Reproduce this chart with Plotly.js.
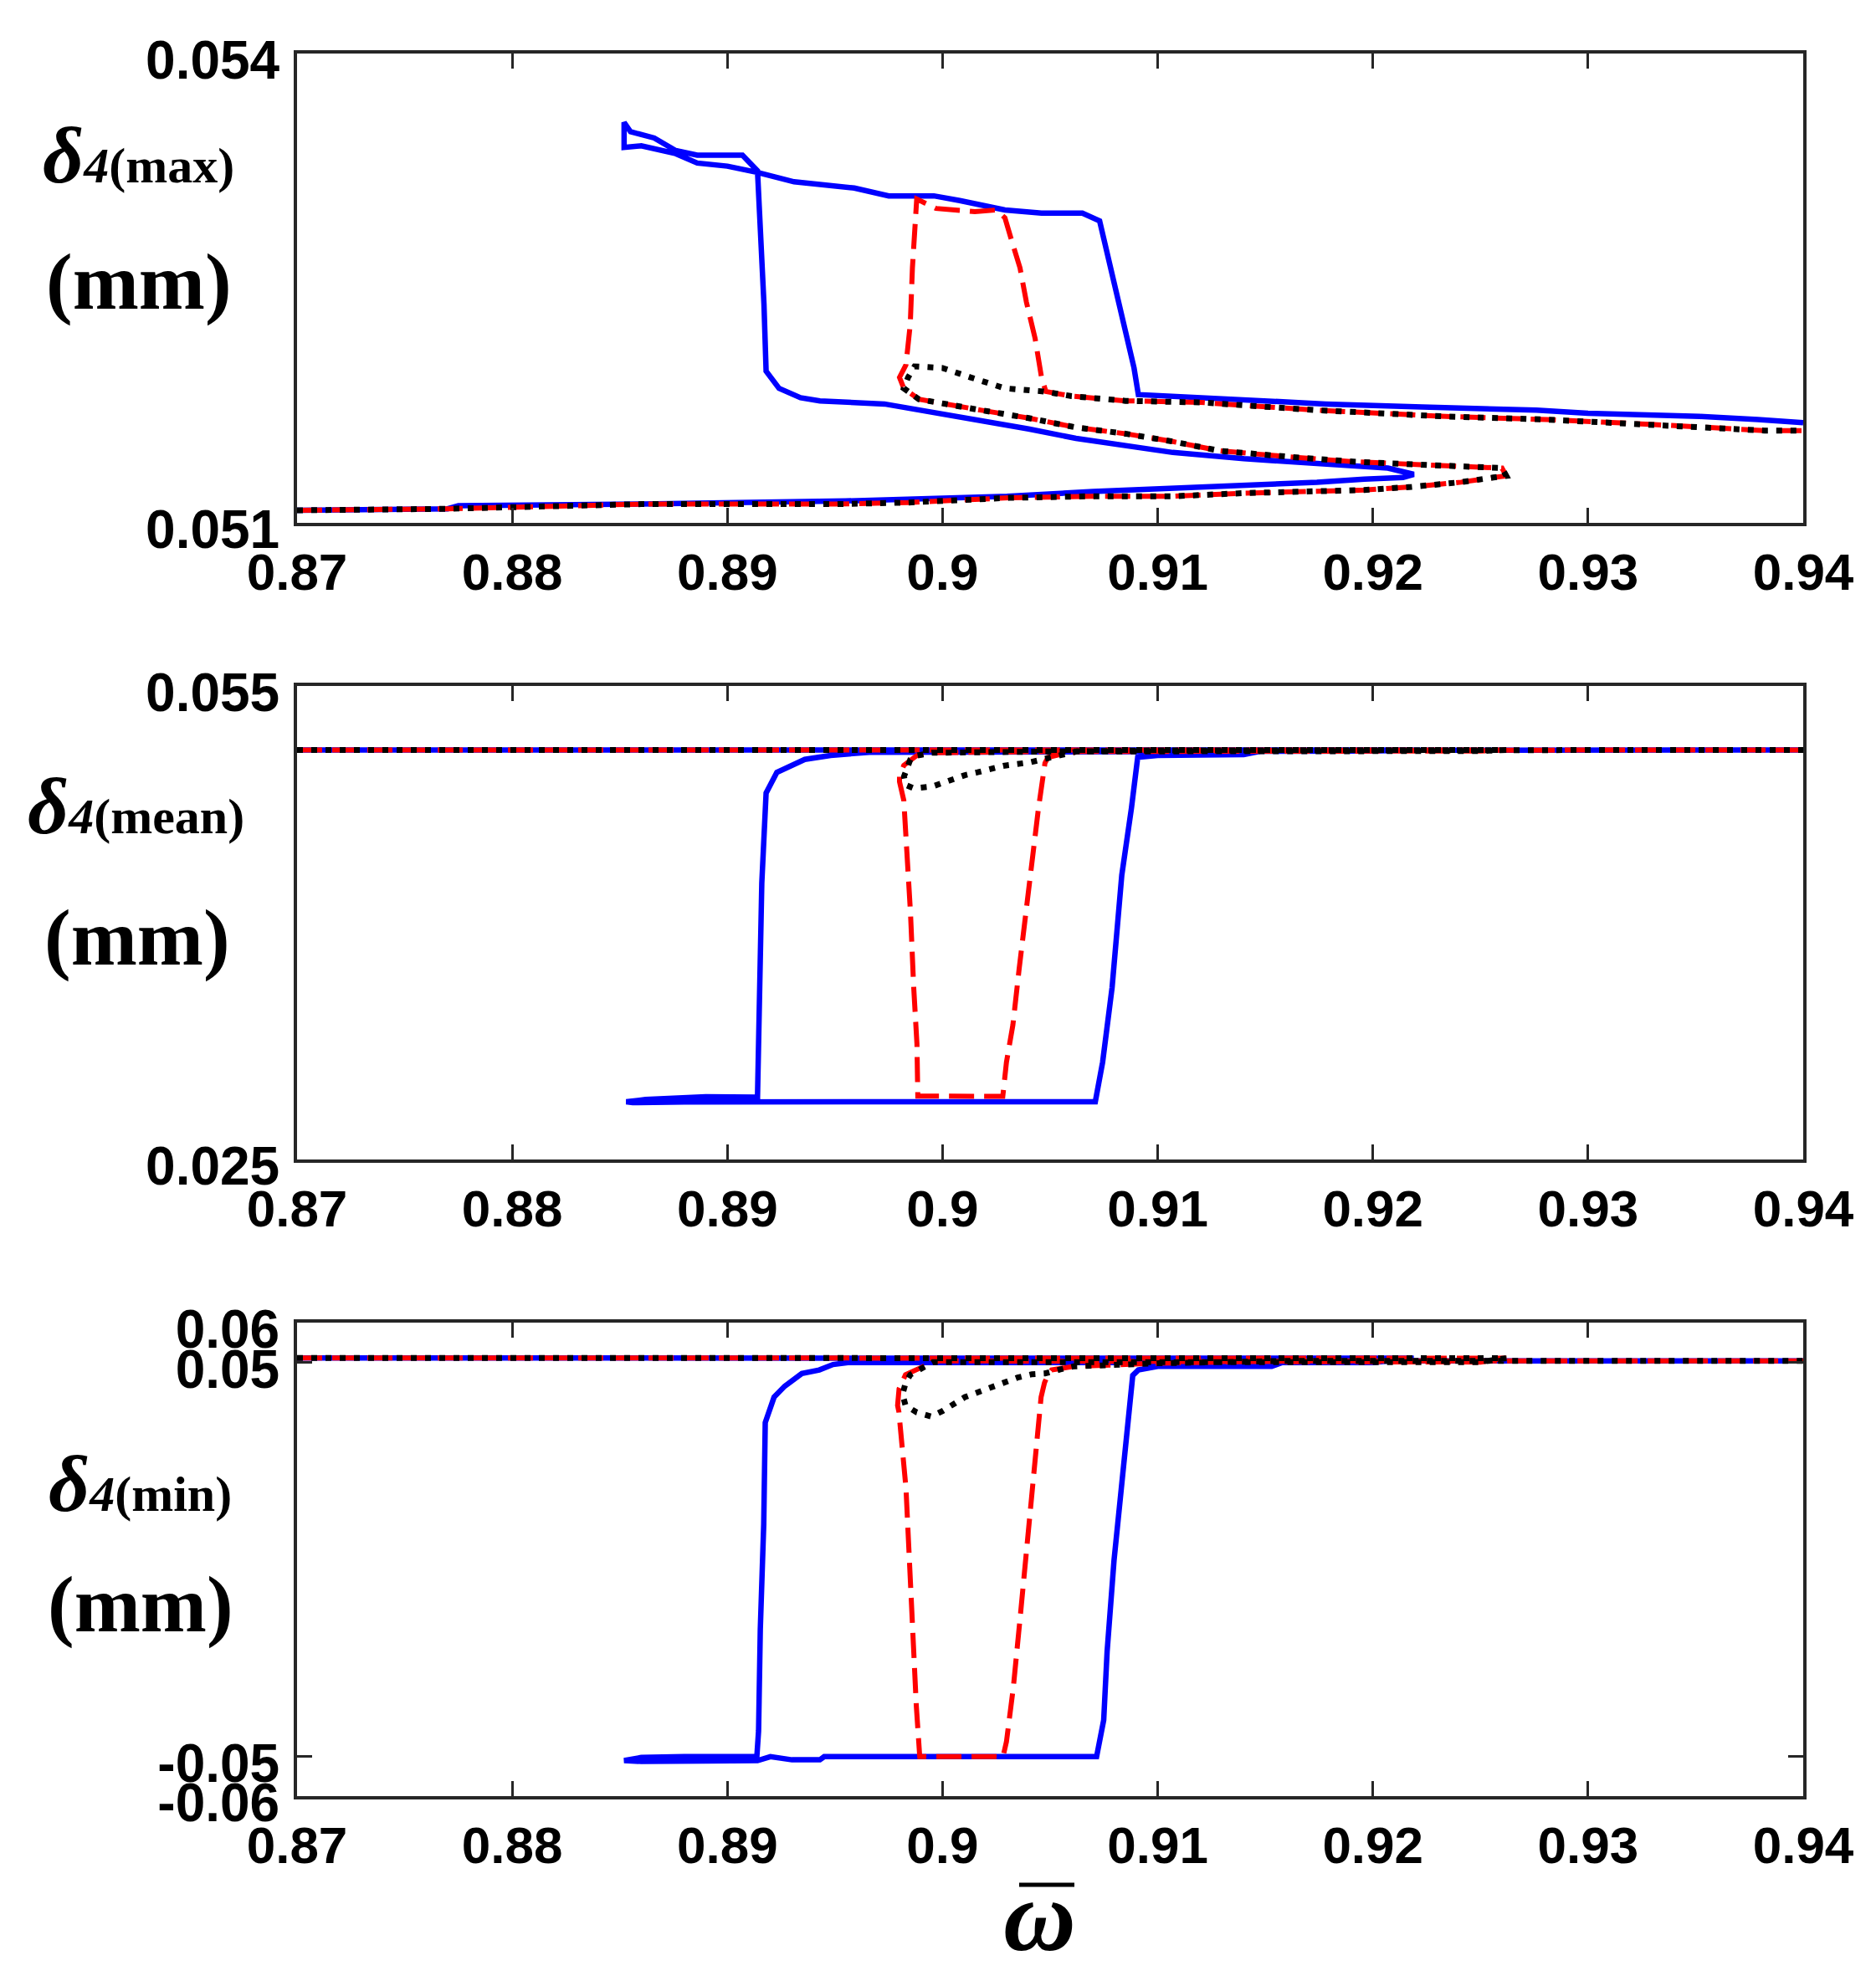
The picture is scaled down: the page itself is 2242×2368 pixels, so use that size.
<!DOCTYPE html>
<html>
<head>
<meta charset="utf-8">
<script src="https://cdn.plot.ly/plotly-3.0.1.min.js"></script>
<style>html,body{margin:0;padding:0;background:#fff;}#chart{width:2242px;height:2368px;}</style>
</head>
<body>
<div id="chart"></div>
<script>
// ---------- tick definitions ----------
const xTickVals = [0.87, 0.88, 0.89, 0.90, 0.91, 0.92, 0.93, 0.94];
const xTickText = ['0.87', '0.88', '0.89', '0.9', '0.91', '0.92', '0.93', '0.94'];
const yMaxTickVals = [0.051, 0.054];
const yMaxTickText = ['0.051', '0.054'];
const yMeanTickVals = [0.025, 0.055];
const yMeanTickText = ['0.025', '0.055'];
const yMinTickVals = [-0.06, -0.05, 0.05, 0.06];
const yMinTickText = ['-0.06', '-0.05', '0.05', '0.06'];

// ---------- delta4(max) ----------
const maxBlueW = [0.870,0.877,0.8775,0.886,0.8955,0.903,0.907,0.9107,0.914,0.9174,0.9196,0.9214,0.9219,
  0.9207,0.9174,0.9140,0.9107,0.9085,0.9062,0.9040,0.9018,0.8995,0.8973,0.8943,0.8934,0.8924,0.8918,
  0.8917,0.8915,0.8914,
  0.8907,0.8886,0.8876,0.8866,0.8855,0.8852,0.8852,0.8860,0.8876,0.8886,0.8900,0.8914,
  0.8931,0.8945,0.8959,0.8975,0.8996,0.9008,0.9029,0.9046,0.9065,0.9073,
  0.9077,0.9081,0.9086,0.9089,0.9091,
  0.9106,0.9116,0.9156,0.9178,0.9223,0.9276,0.9300,0.9352,0.9379,0.9400];
const maxBlueV = [0.05108,0.05109,0.05111,0.05112,0.05114,0.05117,0.05120,0.05122,0.05124,0.05126,0.05128,0.05129,0.05131,
  0.05135,0.05138,0.05141,0.05145,0.05149,0.05154,0.05160,0.05165,0.05171,0.05176,0.05178,0.05180,0.05186,0.05197,
  0.05240,0.05290,0.05325,
  0.05335,0.05335,0.05338,0.05346,0.05350,0.05356,0.05340,0.05341,0.05336,0.05330,0.05328,0.05324,
  0.05318,0.05316,0.05314,0.05309,0.05309,0.05306,0.05300,0.05298,0.05298,0.05293,
  0.05270,0.05245,0.05218,0.05199,0.05182,
  0.05181,0.05180,0.05177,0.05176,0.05174,0.05172,0.05170,0.05168,0.05166,0.05164];

const maxRedW = [0.870,0.877,0.886,0.8951,0.8984,0.9031,0.9069,0.9107,0.9140,0.9174,0.9196,0.9218,0.9241,0.9256,0.9262,
  0.9260,0.9241,0.9218,0.9192,0.9163,0.9129,0.9107,0.9085,0.9062,0.9040,0.9018,0.8995,0.8989,0.8982,
  0.8980,0.8983,0.8985,0.8986,0.8987,0.8988,
  0.8997,0.9015,0.9025,
  0.9029,0.9032,0.9036,0.9039,0.9043,0.9046,0.9048,
  0.9060,0.9085,0.9120,0.9174,0.9234,0.9281,0.9329,0.9382,0.9400];
const maxRedV = [0.05108,0.05109,0.05112,0.05112,0.05113,0.05116,0.05117,0.05117,0.05119,0.05120,0.05121,0.05123,0.05126,0.05129,0.05130,
  0.05135,0.05136,0.05138,0.05139,0.05142,0.05146,0.05152,0.05157,0.05161,0.05167,0.05172,0.05177,0.05179,0.05186,
  0.05193,0.05201,0.05227,0.05263,0.05293,0.05307,
  0.05301,0.05299,0.05300,
  0.05295,0.05281,0.05263,0.05241,0.05218,0.05193,0.05184,
  0.05181,0.05178,0.05177,0.05172,0.05168,0.05166,0.05163,0.05159,0.05159];

const maxBlackW = [0.870,0.877,0.886,0.8951,0.8984,0.9031,0.9069,0.9107,0.9140,0.9174,0.9196,0.9218,0.9241,0.9256,0.9262,
  0.9260,0.9241,0.9218,0.9192,0.9163,0.9129,0.9107,0.9085,0.9062,0.9040,0.9018,0.8995,0.8989,0.8982,
  0.8984,0.8987,0.9000,0.9013,0.9029,0.9047,
  0.9060,0.9085,0.9120,0.9174,0.9234,0.9281,0.9329,0.9382,0.9400];
const maxBlackV = [0.05108,0.05109,0.05112,0.05112,0.05113,0.05116,0.05117,0.05117,0.05119,0.05120,0.05121,0.05123,0.05126,0.05129,0.05130,
  0.05135,0.05136,0.05138,0.05139,0.05142,0.05146,0.05152,0.05157,0.05161,0.05167,0.05172,0.05177,0.05179,0.05186,
  0.05193,0.05200,0.05199,0.05193,0.05186,0.05184,
  0.05181,0.05178,0.05177,0.05172,0.05168,0.05166,0.05163,0.05159,0.05159];

// ---------- delta4(mean) ----------
const meanBlueW = [0.870,0.900,0.9219,
  0.9200,0.9140,0.9090,0.9050,0.9000,0.8966,0.8948,0.8936,0.8923,0.8918,0.8916,0.8915,0.8914,
  0.8890,0.8877,0.8862,0.8853,0.8856,0.8880,0.8914,
  0.9000,0.9071,
  0.90744,0.90788,0.90833,0.90878,0.90907,
  0.9100,0.9140,0.9150,0.9400];
const meanBlueV = [0.05095,0.05095,0.05094,
  0.05088,0.05086,0.05086,0.05086,0.05084,0.05080,0.05060,0.05035,0.04953,0.04822,0.04253,0.03637,0.02895,
  0.02898,0.02892,0.02880,0.02866,0.02860,0.02864,0.02866,
  0.02866,0.02866,
  0.03116,0.03590,0.04301,0.04727,0.05048,
  0.05060,0.05065,0.05093,0.05095];

const meanRedW = [0.870,0.9262,
  0.9250,0.9050,0.9000,0.8995,0.8988,0.8982,0.8980,0.8980,0.8982,0.89836,0.89851,0.89866,0.89881,0.89885,
  0.9028,
  0.90297,0.90327,0.90356,0.90387,0.90416,0.90446,0.90476,0.90490,0.90551,0.9065,
  0.9100,0.9400];
const meanRedV = [0.05095,0.05095,
  0.05088,0.05085,0.05080,0.05077,0.05059,0.04997,0.04930,0.04894,0.04775,0.04420,0.04064,0.03590,0.03234,0.02902,
  0.02900,
  0.03116,0.03353,0.03708,0.04064,0.04420,0.04727,0.05012,0.05048,0.05068,0.05086,
  0.05092,0.05095];

const meanBlackW = [0.870,0.9262,
  0.9250,0.9050,0.9000,0.8995,0.8988,0.8985,0.89821,0.89828,0.89866,0.89955,0.9003,0.90104,0.90163,0.90282,0.90401,0.9049,0.90625,
  0.9100,0.9400];
const meanBlackV = [0.05095,0.05095,
  0.05088,0.05085,0.05080,0.05077,0.05059,0.05033,0.04927,0.04873,0.04852,0.04864,0.04900,0.04935,0.04953,0.04994,0.05015,0.05042,0.05086,
  0.05092,0.05095];

// ---------- delta4(min) ----------
const minBlueW = [0.870,0.9219,
  0.9200,0.9100,0.9000,0.8956,0.89491,0.89427,0.89346,0.89266,0.89217,0.89176,0.89169,0.89153,0.89145,0.89137,
  0.8880,0.8860,0.8852,0.8860,0.8890,0.8914,0.8920,0.8930,0.8943,0.8945,
  0.9000,0.90716,
  0.90749,0.90765,0.90797,0.90829,0.90862,0.90884,0.9091,
  0.9100,0.9153,0.9160,0.9400];
const minBlueV = [0.05103,0.05100,
  0.04990,0.04985,0.04985,0.04985,0.04938,0.04800,0.04709,0.04387,0.04111,0.03467,0.00893,-0.01774,-0.04348,-0.05000,
  -0.05000,-0.05020,-0.05100,-0.05120,-0.05110,-0.05100,-0.05000,-0.05080,-0.05080,-0.05000,
  -0.05000,-0.05000,
  -0.04072,-0.02325,-0.00027,0.01813,0.03375,0.04662,0.04800,
  0.04890,0.04890,0.05030,0.05030];

const minRedW = [0.870,0.9262,
  0.9250,0.9100,0.9047,0.9000,0.89985,0.8994,0.8988,0.89828,0.89798,0.89791,0.89797,0.8983,0.89846,0.89862,0.89878,0.89894,
  0.90281,
  0.90297,0.90329,0.90362,0.90394,0.90426,0.90458,0.90474,0.90490,0.90507,0.9055,0.9061,
  0.9100,0.9160,0.9400];
const minRedV = [0.05103,0.05100,
  0.05000,0.05000,0.05010,0.05020,0.05031,0.04961,0.04819,0.04679,0.04325,0.03901,0.03742,0.01813,-0.00027,-0.01958,-0.03705,-0.05000,
  -0.05000,
  -0.04623,-0.03245,-0.01405,0.00433,0.02271,0.04111,0.04478,0.04679,0.04800,0.04850,0.04890,
  0.04970,0.05030,0.05030];

const minBlackW = [0.870,0.9262,
  0.9250,0.9100,0.9047,0.9000,0.89955,0.89896,0.8985,0.89828,0.89814,0.89828,0.8988,0.89947,0.9000,0.90104,0.90193,0.90282,0.90349,0.90416,0.90476,0.90551,0.9061,
  0.9100,0.9160,0.9400];
const minBlackV = [0.05103,0.05100,
  0.05000,0.05000,0.05010,0.05020,0.04997,0.04819,0.04679,0.04467,0.04184,0.03901,0.03725,0.03619,0.03760,0.04113,0.04289,0.04501,0.04607,0.04692,0.04713,0.04819,0.04891,
  0.04970,0.05030,0.05030];

// ---------- styles ----------
const W = 2242, H = 2368;
const blueLine = {color:'#0000ff', width:6.5};
const redLine = {color:'#ff0000', width:6, dash:'30px,12px'};
const blackLine = {color:'#000000', width:7, dash:'7px,10px'};

function tr(x, y, line, xa, ya) {
  return {x:x, y:y, type:'scatter', mode:'lines', line:line, xaxis:xa, yaxis:ya, hoverinfo:'skip', showlegend:false};
}

const data = [
  tr(maxBlueW, maxBlueV, blueLine, 'x', 'y'),
  tr(maxRedW, maxRedV, redLine, 'x', 'y'),
  tr(maxBlackW, maxBlackV, blackLine, 'x', 'y'),
  tr(meanBlueW, meanBlueV, blueLine, 'x2', 'y2'),
  tr(meanRedW, meanRedV, redLine, 'x2', 'y2'),
  tr(meanBlackW, meanBlackV, blackLine, 'x2', 'y2'),
  tr(minBlueW, minBlueV, blueLine, 'x3', 'y3'),
  tr(minRedW, minRedV, redLine, 'x3', 'y3'),
  tr(minBlackW, minBlackV, blackLine, 'x3', 'y3')
];

const axisBase = {
  showline:true, linecolor:'#262626', linewidth:4, mirror:'ticks',
  ticks:'inside', ticklen:18, tickwidth:3, tickcolor:'#262626',
  showgrid:false, zeroline:false, fixedrange:true
};
function xa(anchor) {
  return Object.assign({}, axisBase, {
    domain:[355/W, 2155/W], range:[0.87, 0.94], anchor:anchor,
    tickmode:'array', tickvals:xTickVals, ticktext:xTickText, ticklabelstandoff:2,
    tickfont:{family:'Liberation Sans, Arial, sans-serif', size:62, color:'#000', weight:'bold'}
  });
}
function ya(anchor, top, bottom, range, vals, text) {
  return Object.assign({}, axisBase, {
    domain:[1 - bottom/H, 1 - top/H], range:range, anchor:anchor,
    tickmode:'array', tickvals:vals, ticktext:text, ticklabelstandoff:4, ticklabelshift:8,
    tickfont:{family:'Liberation Sans, Arial, sans-serif', size:64, color:'#000', weight:'bold'}
  });
}

const serif = 'Liberation Serif, Times New Roman, serif';
function lab(text, cx, cy, size) {
  return {text:text, x:cx/W, y:1 - cy/H, xref:'paper', yref:'paper', xanchor:'center', yanchor:'middle',
    showarrow:false, font:{family:serif, size:size, color:'#000'}};
}
function deltaLabel(sub) {
  return '<b><i>δ</i></b><span style="font-size:60px"><b><i>4</i>(' + sub + ')</b></span>';
}

const layout = {
  width:W, height:H, margin:{l:0, r:0, t:0, b:0},
  paper_bgcolor:'#ffffff', plot_bgcolor:'#ffffff',
  xaxis: xa('y'),
  yaxis: ya('x', 64, 625, [0.051, 0.054], yMaxTickVals, yMaxTickText),
  xaxis2: xa('y2'),
  yaxis2: ya('x2', 820, 1386, [0.025, 0.055], yMeanTickVals, yMeanTickText),
  xaxis3: xa('y3'),
  yaxis3: ya('x3', 1581, 2147, [-0.06, 0.06], yMinTickVals, yMinTickText),
  annotations: [
    lab(deltaLabel('max'), 165, 185, 96),
    lab('<b>(mm)</b>', 166, 337, 95),
    lab(deltaLabel('mean'), 162, 964, 96),
    lab('<b>(mm)</b>', 164, 1121, 95),
    lab(deltaLabel('min'), 167, 1773, 96),
    lab('<b>(mm)</b>', 168, 1918, 95),
    lab('<b><i>ω</i></b>', 1242, 2290, 120)
  ],
  shapes: [
    {type:'line', xref:'paper', yref:'paper', x0:1218/W, x1:1284/W, y0:1 - 2253/H, y1:1 - 2253/H,
     line:{color:'#000', width:5}}
  ]
};

Plotly.newPlot('chart', data, layout, {staticPlot:true, displayModeBar:false});
</script>
</body>
</html>
